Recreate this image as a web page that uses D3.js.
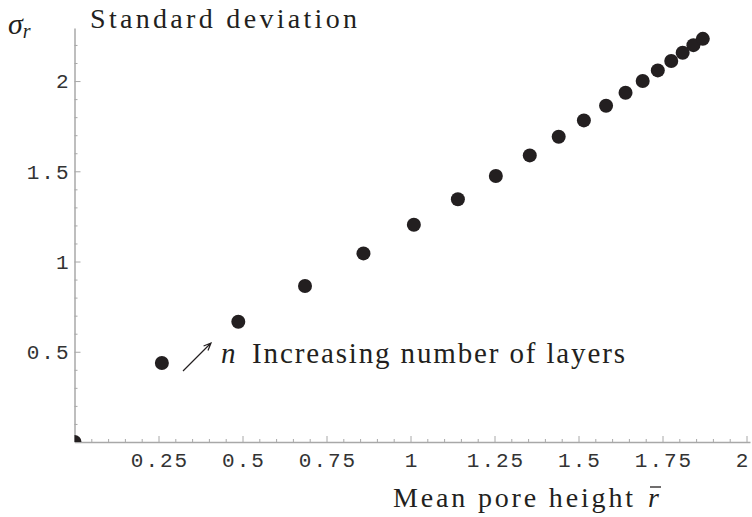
<!DOCTYPE html>
<html>
<head>
<meta charset="utf-8">
<script src="https://cdn.jsdelivr.net/npm/d3@7"></script>
<style>
  body { margin: 0; background: #fff; }
  svg { display: block; }
  .tick-label { font-family: "Liberation Mono", "Courier New", monospace; font-size: 21px; fill: #333; letter-spacing: 2px; }
  .serif { font-family: "Liberation Serif", "Times New Roman", serif; fill: #231f20; }
</style>
</head>
<body>
<svg id="chart"></svg>
<script>
var width = 752;
var height = 517;

// mean pore height r-bar, one point per number of layers n
var meanHeight = [0, 0.260, 0.4875, 0.686, 0.860, 1.010, 1.141, 1.254, 1.355, 1.441,
  1.516, 1.582, 1.640, 1.691, 1.736, 1.776, 1.810, 1.842, 1.870];
// standard deviation sigma_r
var stdDev = [0, 0.438, 0.666, 0.864, 1.045, 1.204, 1.345, 1.474, 1.588, 1.691,
  1.782, 1.863, 1.935, 2.000, 2.059, 2.111, 2.157, 2.199, 2.234];

var xTicks = [0.25, 0.5, 0.75, 1, 1.25, 1.5, 1.75, 2];
var xTickLabels = ["0.25", "0.5", "0.75", "1", "1.25", "1.5", "1.75", "2"];
var yTicks = [0.5, 1, 1.5, 2];
var yTickLabels = ["0.5", "1", "1.5", "2"];

var points = meanHeight.map(function (d, i) {
  return { x: d, y: stdDev[i] };
});

var svg = d3.select("#chart").attr("width", width).attr("height", height);

var x = d3.scaleLinear().domain([0, 2.0104]).range([74.5, 750]);
var y = d3.scaleLinear().domain([0, 2.294]).range([442, 28]);

var axisColor = "#a8a8a8";

// minor ticks first, then major ticks with labels
var xMinor = d3.range(0.05, 2.001, 0.05).filter(function (v) {
  return Math.abs(v * 4 - Math.round(v * 4)) > 1e-6;
});
var yMinor = d3.range(0.1, 2.29, 0.1).filter(function (v) {
  return Math.abs(v * 2 - Math.round(v * 2)) > 1e-6;
});

svg.append("g")
  .attr("transform", "translate(0," + y(0) + ")")
  .call(d3.axisBottom(x).tickValues(xMinor).tickSizeInner(-3).tickSizeOuter(0).tickFormat(""))
  .call(function (g) {
    g.select(".domain").attr("stroke", axisColor).attr("stroke-width", 1.5);
    g.selectAll(".tick line").attr("stroke", axisColor);
  });

var xAxis = svg.append("g")
  .attr("transform", "translate(0," + y(0) + ")")
  .call(d3.axisBottom(x).tickValues(xTicks).tickSizeInner(-6).tickSizeOuter(0)
    .tickFormat(function (d, i) { return xTickLabels[i]; }));
xAxis.select(".domain").remove();
xAxis.selectAll(".tick line").attr("stroke", axisColor);
xAxis.selectAll(".tick text")
  .attr("class", "tick-label")
  .attr("y", 10)
  .attr("dx", function (d) { return d === 2 ? -4 : 1; })
  .attr("fill", null);

svg.append("g")
  .attr("transform", "translate(" + x(0) + ",0)")
  .call(d3.axisLeft(y).tickValues(yMinor).tickSizeInner(-3).tickSizeOuter(0).tickFormat(""))
  .call(function (g) {
    g.select(".domain").attr("stroke", axisColor).attr("stroke-width", 1.5);
    g.selectAll(".tick line").attr("stroke", axisColor);
  });

var yAxis = svg.append("g")
  .attr("transform", "translate(" + x(0) + ",0)")
  .call(d3.axisLeft(y).tickValues(yTicks).tickSizeInner(-6).tickSizeOuter(0)
    .tickFormat(function (d, i) { return yTickLabels[i]; }));
yAxis.select(".domain").remove();
yAxis.selectAll(".tick line").attr("stroke", axisColor);
yAxis.selectAll(".tick text")
  .attr("class", "tick-label")
  .attr("x", -6)
  .attr("dx", 2)
  .attr("fill", null);

// points, clipped to the plot area so the origin shows as a quarter disc
svg.append("clipPath").attr("id", "plotClip")
  .append("rect")
  .attr("x", x(0))
  .attr("y", 0)
  .attr("width", width - x(0))
  .attr("height", y(0));

svg.append("g")
  .attr("clip-path", "url(#plotClip)")
  .selectAll("circle")
  .data(points)
  .enter()
  .append("circle")
  .attr("cx", function (d) { return x(d.x); })
  .attr("cy", function (d) { return y(d.y); })
  .attr("r", 7)
  .attr("fill", "#231f20");

// y axis title
var sigma = svg.append("text").attr("class", "serif").attr("x", 8).attr("y", 34);
sigma.append("tspan").attr("font-style", "italic").attr("font-size", 30).text("\u03c3");
sigma.append("tspan").attr("font-style", "italic").attr("font-size", 20).attr("dy", 4).text("r");

svg.append("text")
  .attr("class", "serif")
  .attr("x", 90)
  .attr("y", 28)
  .attr("font-size", 28)
  .attr("textLength", 267)
  .text("Standard deviation");

// x axis title
svg.append("text")
  .attr("class", "serif")
  .attr("x", 393)
  .attr("y", 507)
  .attr("font-size", 28)
  .attr("textLength", 240)
  .text("Mean pore height");
svg.append("text")
  .attr("class", "serif")
  .attr("x", 648)
  .attr("y", 507)
  .attr("font-size", 28)
  .attr("font-style", "italic")
  .text("r");
svg.append("line")
  .attr("x1", 650).attr("x2", 661)
  .attr("y1", 487).attr("y2", 487)
  .attr("stroke", "#231f20").attr("stroke-width", 1.3);

// annotation arrow and text
var ax1 = 183, ay1 = 371, ax2 = 211, ay2 = 343;
var ang = Math.atan2(ay2 - ay1, ax2 - ax1);
var head = 8;
var arrowPath = d3.path();
arrowPath.moveTo(ax1, ay1);
arrowPath.lineTo(ax2, ay2);
arrowPath.moveTo(ax2 - head * Math.cos(ang - 0.4), ay2 - head * Math.sin(ang - 0.4));
arrowPath.lineTo(ax2, ay2);
arrowPath.lineTo(ax2 - head * Math.cos(ang + 0.4), ay2 - head * Math.sin(ang + 0.4));
svg.append("path")
  .attr("d", arrowPath.toString())
  .attr("fill", "none")
  .attr("stroke", "#231f20")
  .attr("stroke-width", 1.2);

svg.append("text")
  .attr("class", "serif")
  .attr("x", 221)
  .attr("y", 363)
  .attr("font-size", 29)
  .attr("font-style", "italic")
  .text("n");
svg.append("text")
  .attr("class", "serif")
  .attr("x", 252)
  .attr("y", 363)
  .attr("font-size", 29)
  .attr("textLength", 373)
  .text("Increasing number of layers");
</script>
</body>
</html>
